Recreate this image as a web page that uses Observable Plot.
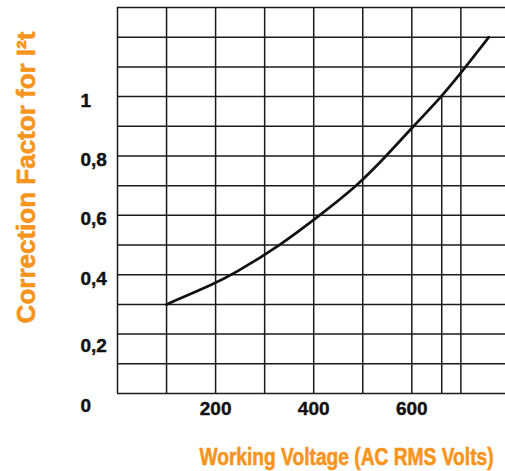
<!DOCTYPE html>
<html><head><meta charset="utf-8">
<script src="https://cdn.jsdelivr.net/npm/d3@7"></script>
<script src="https://cdn.jsdelivr.net/npm/@observablehq/plot@0.6"></script>
<style>html,body{margin:0;padding:0;background:#fff;} svg{display:block}</style>
</head><body><div id="chart"></div>
<script>
// Curve: correction factor vs working voltage
const voltage = [100, 200, 234, 333, 412, 489, 548, 603, 661, 710, 757];
const factor  = [0.30, 0.372, 0.40, 0.50, 0.60, 0.70, 0.80, 0.90, 1.00, 1.10, 1.20];
// Grid
const xGrid = [0, 100, 200, 300, 400, 500, 600, 700];
const yGrid = [0, 0.1, 0.2, 0.3, 0.4, 0.5, 0.6, 0.7, 0.8, 0.9, 1.0, 1.1, 1.2, 1.3];
// Ticks
const xTicks = [200, 400, 600];
const xTickLabels = ["200", "400", "600"];
const yTicks = [1, 0.8, 0.6, 0.4, 0.2, 0];
const yTickLabels = ["1", "0,8", "0,6", "0,4", "0,2", "0"];
// Reference drop line where factor = 1
const refVoltage = [661];
const refFactor = 1;
const xTitle = "Working Voltage (AC RMS Volts)";
const yTitle = "Correction Factor for I²t";

const orange = "#f7941d";
const ink = "#1a1a1a";
const curve = voltage.map((v, i) => ({v, f: factor[i]}));
const yt = yTicks.map((t, i) => ({t, label: yTickLabels[i]}));
const xt = xTicks.map((t, i) => ({t, label: xTickLabels[i]}));
const tickStyle = {fontSize: 19, fontWeight: "bold", fill: "#111", stroke: "#111", strokeWidth: 0.4};
const titleStyle = {fontWeight: "bold", fill: orange, stroke: orange, strokeWidth: 0.6};

const chart = Plot.plot({
  width: 505, height: 471,
  marginLeft: 117, marginRight: 0, marginTop: 7, marginBottom: 78,
  x: {domain: [0, 791], axis: null},
  y: {domain: [0, 1.3], axis: null},
  style: {background: "#fff", fontFamily: "'Liberation Sans', Arial, sans-serif"},
  marks: [
    Plot.ruleY(yGrid, {stroke: ink, strokeWidth: 1.5}),
    Plot.ruleX(xGrid, {stroke: ink, strokeWidth: 1.5}),
    Plot.ruleX(refVoltage, {y1: 0, y2: refFactor, stroke: ink, strokeWidth: 1.5}),
    Plot.line(curve, {x: "v", y: "f", curve: "basis", stroke: "#111", strokeWidth: 2.7}),
    Plot.text(yt.filter(d => d.t > 0.3), {y: "t", text: "label", frameAnchor: "left", dx: -37, dy: 4, textAnchor: "start", lineAnchor: "middle", ...tickStyle}),
    Plot.text(yt.filter(d => d.t < 0.3), {y: "t", text: "label", frameAnchor: "left", dx: -37, dy: 12, textAnchor: "start", lineAnchor: "middle", ...tickStyle}),
    Plot.text(xt, {x: "t", text: "label", frameAnchor: "bottom", dy: 15, lineAnchor: "middle", ...tickStyle}),
    Plot.text([xTitle], {text: d => d, frameAnchor: "bottom", textAnchor: "middle", dx: 35, dy: 64, lineAnchor: "middle", fontSize: 24, ...titleStyle}),
    Plot.text([yTitle], {text: d => d, frameAnchor: "left", textAnchor: "middle", rotate: -90, dx: -91, dy: -23, lineAnchor: "middle", fontSize: 26, ...titleStyle})
  ]
});
document.getElementById("chart").appendChild(chart);
// condense the x title horizontally (the reference uses a condensed face)
d3.select(chart).selectAll("text").each(function() {
  if (this.textContent === xTitle) {
    const tr = this.getAttribute("transform") || "";
    this.setAttribute("transform", tr + " scale(0.8,1)");
  }
});
</script>
</body></html>
